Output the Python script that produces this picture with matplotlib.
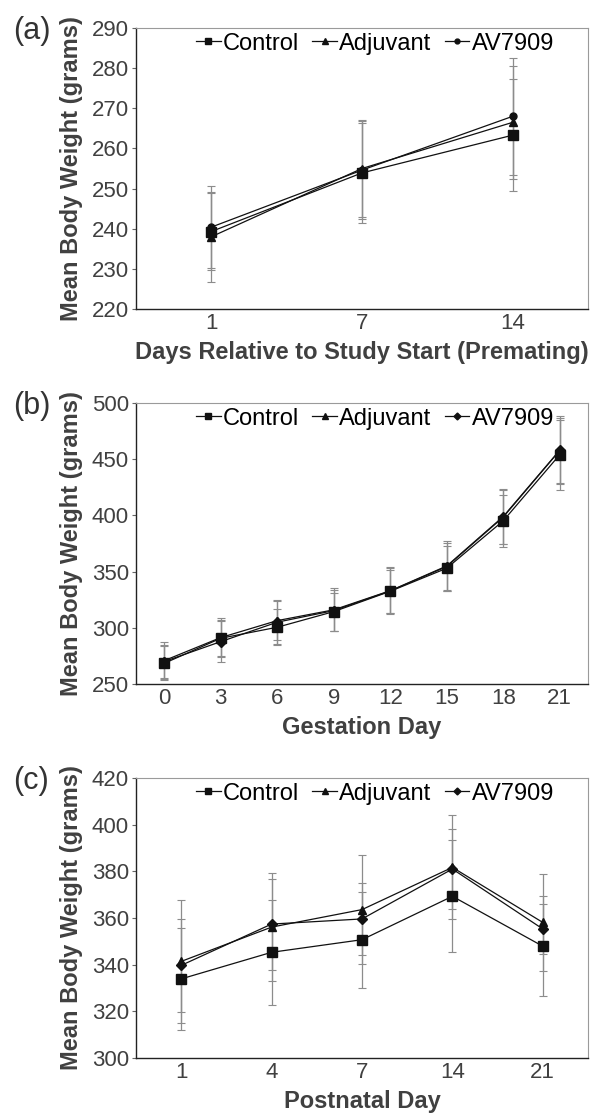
import numpy as np
import matplotlib
matplotlib.use('Agg')
import matplotlib.pyplot as plt

plt.rcParams['font.family'] = ['Liberation Sans', 'DejaVu Sans']

series_names = ['Control', 'Adjuvant', 'AV7909']

# (a) premating
days_a = ['1', '7', '14']
ctrl_a = [239.3, 253.9, 263.3]
adj_a = [238.0, 255.0, 266.5]
av_a = [240.4, 254.6, 268.0]
ctrl_a_sd = [9.5, 12.5, 14.0]
adj_a_sd = [11.2, 12.0, 14.0]
av_a_sd = [10.2, 12.2, 14.5]

# (b) gestation
days_b = ['0', '3', '6', '9', '12', '15', '18', '21']
ctrl_b = [268.4, 290.7, 300.5, 314.4, 332.5, 353.0, 395.2, 454.0]
adj_b = [270.8, 291.3, 306.4, 316.0, 333.0, 355.0, 399.0, 458.0]
av_b = [270.0, 287.7, 305.0, 315.3, 332.8, 354.5, 398.5, 457.8]
ctrl_b_sd = [15.0, 16.0, 16.0, 17.0, 19.0, 20.0, 23.0, 31.0]
adj_b_sd = [16.5, 17.5, 17.5, 19.0, 21.0, 22.0, 24.5, 30.0]
av_b_sd = [14.5, 18.5, 19.5, 18.0, 20.0, 21.0, 24.0, 29.0]

# (c) postnatal
days_c = ['1', '4', '7', '14', '21']
ctrl_c = [333.9, 345.3, 350.7, 369.3, 347.9]
adj_c = [341.4, 356.1, 363.6, 381.7, 358.1]
av_c = [339.7, 357.4, 359.6, 381.0, 355.3]
ctrl_c_sd = [22.0, 22.4, 20.5, 24.0, 21.5]
adj_c_sd = [26.5, 23.0, 23.5, 22.3, 20.6]
av_c_sd = [20.0, 19.5, 15.5, 17.0, 10.7]

W, H = 592, 1113
fig = plt.figure(figsize=(W / 100, H / 100), dpi=100)

TXT = '#404040'


def panel(top, bottom, days, vals, sds, third_marker, ylim, yticks, xlabel, tag):
	ax = fig.add_axes([136 / W, 1 - bottom / H, 452 / W, (bottom - top) / H])
	x = np.arange(len(days))
	markers = ['s', '^', third_marker]
	msizes = [7, 6, 5]
	for v, s in zip(vals, sds):
		ax.errorbar(x, v, yerr=s, fmt='none', ecolor='#8c8c8c', elinewidth=0.9,
		            capsize=3, capthick=0.8, zorder=1)
	for v, m, ms, name in zip(vals, markers, msizes, series_names):
		ax.plot(x, v, color='#111111', lw=0.9, marker=m, ms=ms, label=name, zorder=3)
	ax.set_xlim(-0.5, len(days) - 0.5)
	ax.set_ylim(*ylim)
	ax.set_yticks(yticks)
	ax.set_xticks(x)
	ax.set_xticklabels(days)
	ax.tick_params(axis='x', length=0, pad=3, labelsize=16, labelcolor=TXT)
	ax.tick_params(axis='y', length=3, width=0.8, color='#666666', pad=2,
	               labelsize=16, labelcolor=TXT)
	for side in ['left', 'bottom']:
		ax.spines[side].set_color('#222222')
		ax.spines[side].set_linewidth(1.0)
	for side in ['top', 'right']:
		ax.spines[side].set_color('#9a9a9a')
		ax.spines[side].set_linewidth(0.8)
	ax.set_ylabel('Mean Body Weight (grams)', fontsize=17, fontweight='bold',
	              color=TXT, labelpad=6.5)
	ax.set_xlabel(xlabel, fontsize=17, fontweight='bold', color=TXT, labelpad=5)
	ax.legend(loc='upper center', bbox_to_anchor=((375 - 136) / 452, 1.0), ncol=3,
	          frameon=False, fontsize=17, handlelength=1.05, handletextpad=0.1,
	          columnspacing=0.55, borderaxespad=0.0, borderpad=0.2, markerscale=0.7)
	fig.text(13 / W, 1 - (top + 3) / H, tag, fontsize=22, color='#333333',
	         ha='left', va='center')
	return ax


panel(28, 309, days_a, [ctrl_a, adj_a, av_a], [ctrl_a_sd, adj_a_sd, av_a_sd], 'o',
      (220, 290), np.arange(220, 291, 10),
      'Days Relative to Study Start (Premating)', '(a)')
panel(403, 684, days_b, [ctrl_b, adj_b, av_b], [ctrl_b_sd, adj_b_sd, av_b_sd], 'D',
      (250, 500), np.arange(250, 501, 50), 'Gestation Day', '(b)')
panel(778, 1058, days_c, [ctrl_c, adj_c, av_c], [ctrl_c_sd, adj_c_sd, av_c_sd], 'D',
      (300, 420), np.arange(300, 421, 20), 'Postnatal Day', '(c)')

fig.savefig('out.png', dpi=100)
